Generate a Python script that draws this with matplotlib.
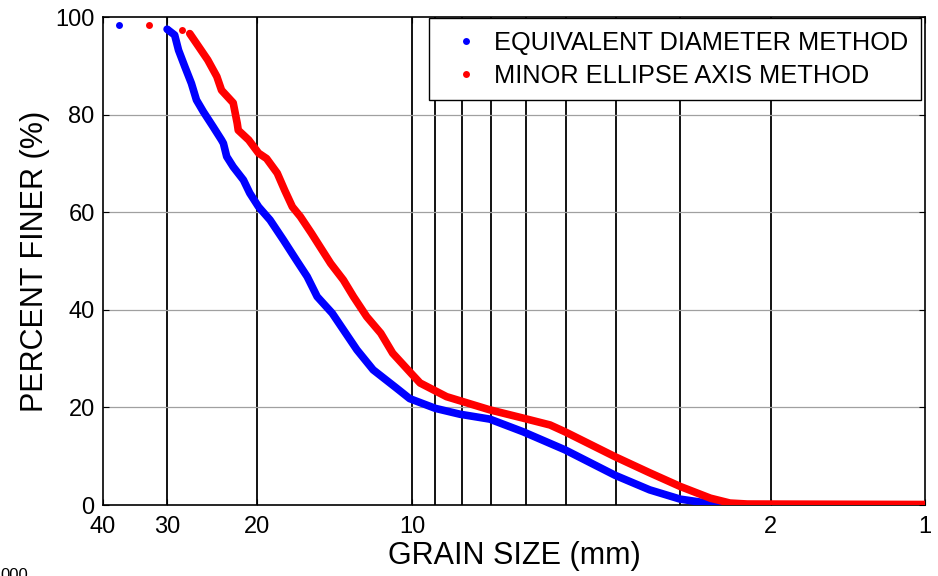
import matplotlib
matplotlib.use("Agg")
import matplotlib.pyplot as plt
from matplotlib.lines import Line2D

plt.rcParams['font.family'] = ['Liberation Sans', 'DejaVu Sans']

# Equivalent diameter method: grain size (mm), percent finer (%)
blue_size = [37.3, 30.0, 29.0, 28.5, 27.7, 26.9, 26.3, 25.5, 24.4, 23.5, 23.3, 22.96, 22.3,
             21.3, 20.7, 19.9, 18.9, 17.8, 16.8, 16.0, 15.3, 14.3, 13.6, 12.8, 11.9,
             10.7, 10.1, 9.0, 8.06, 7.05, 6.07, 5.03, 4.02, 3.44, 3.0, 2.62, 2.29, 1.0]
blue_pct = [98.4, 97.5, 96.3, 93.2, 89.8, 86.4, 83.0, 80.6, 77.5, 74.8, 74.1, 71.4, 69.3,
            66.6, 63.9, 61.1, 58.4, 54.3, 50.2, 46.8, 42.7, 39.3, 35.9, 31.8, 27.7,
            23.9, 21.8, 19.8, 18.6, 17.6, 15.0, 11.3, 6.1, 3.1, 1.2, 0.3, 0.0, 0.0]

# Minor ellipse axis method
red_size = [32.5, 28.1, 27.1, 26.3, 25.0, 24.0, 23.5, 22.3, 21.9, 21.8, 20.8, 19.9, 19.2,
            18.3, 17.7, 17.1, 16.5, 15.7, 15.1, 14.4, 13.6, 13.0, 12.25, 11.5, 10.9,
            10.0, 9.64, 8.56, 7.05, 6.07, 5.38, 5.03, 4.02, 3.44, 3.0, 2.62, 2.40, 2.22, 1.0]
red_pct = [98.4, 97.3, 96.6, 94.6, 91.2, 87.8, 85.0, 82.4, 78.2, 76.8, 74.8, 72.1, 71.0,
           68.0, 64.5, 61.1, 59.1, 55.7, 52.9, 49.5, 46.1, 42.7, 38.6, 35.2, 31.1,
           26.8, 25.0, 22.2, 19.5, 17.8, 16.4, 15.0, 9.9, 6.6, 3.8, 1.4, 0.4, 0.2, 0.1]

x_ticks = [40, 30, 20, 10, 2, 1]
x_ticklabels = ['40', '30', '20', '10', '2', '1']
y_ticks = [0, 20, 40, 60, 80, 100]
v_lines = [30, 20, 10, 9, 8, 7, 6, 5, 4, 3, 2]
h_grid = [20, 40, 60, 80]

series_labels = ['EQUIVALENT DIAMETER METHOD', 'MINOR ELLIPSE AXIS METHOD']

fig = plt.figure(figsize=(9.38, 5.76), dpi=100)
ax = fig.add_axes([103/938, 1-505/576, (925-103)/938, (505-17)/576])

ax.set_xscale('log')
ax.set_xlim(40, 1)
ax.set_ylim(0, 100)

for v in v_lines:
    ax.axvline(v, color='black', lw=1.3, zorder=1)
for h in h_grid:
    ax.axhline(h, color='#a0a0a0', lw=0.9, zorder=1)

# blue: isolated first points, then dense curve
ax.plot(blue_size[:2], blue_pct[:2], 'o', color='#0000ff', ms=5, mec='none', zorder=3)
ax.plot(blue_size[1:], blue_pct[1:], '-', color='#0000ff', lw=5.5,
        solid_capstyle='round', solid_joinstyle='round', zorder=3)
ax.plot(red_size[:2], red_pct[:2], 'o', color='#ff0000', ms=5, mec='none', zorder=4)
ax.plot(red_size[2:], red_pct[2:], '-', color='#ff0000', lw=5.5,
        solid_capstyle='round', solid_joinstyle='round', zorder=4)

ax.set_xticks(x_ticks)
ax.set_xticklabels(x_ticklabels)
ax.xaxis.set_minor_locator(matplotlib.ticker.NullLocator())
ax.set_yticks(y_ticks)
ax.tick_params(axis='both', direction='in', labelsize=17, length=4, width=0.8,
               top=True, right=True)
ax.tick_params(axis='x', pad=8)
ax.tick_params(axis='y', pad=6)

for s in ax.spines.values():
    s.set_linewidth(1.2)
    s.set_color('black')

ax.set_xlabel('GRAIN SIZE (mm)', fontsize=22, labelpad=2)
ax.set_ylabel('PERCENT FINER (%)', fontsize=22, labelpad=4)

handles = [Line2D([], [], marker='o', ls='none', color='#0000ff', ms=5, mec='none'),
           Line2D([], [], marker='o', ls='none', color='#ff0000', ms=5, mec='none')]
leg = ax.legend(handles, series_labels, loc='upper right', fontsize=18.3,
                bbox_to_anchor=((921-103)/822, (505-18)/488),
                frameon=True, fancybox=False, borderaxespad=0,
                handletextpad=0.16, borderpad=0.5, labelspacing=0.35, handlelength=1.9)
leg.get_frame().set_edgecolor('black')
leg.get_frame().set_linewidth(1.0)
leg.get_frame().set_alpha(1)

fig.text(0.0, 1-568/576, '000', fontsize=12, va='top', ha='left')

fig.savefig('out.png', dpi=100)
